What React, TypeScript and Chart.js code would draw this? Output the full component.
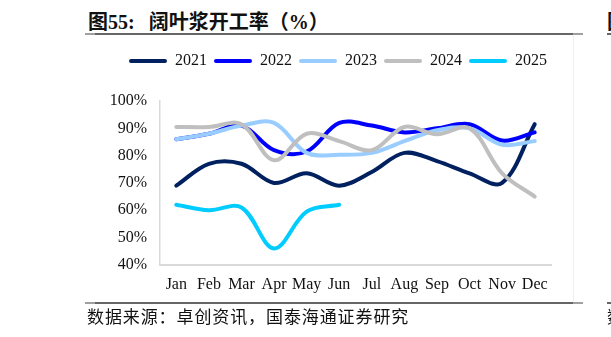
import React, { useEffect, useRef } from "react";
import { Chart, registerables } from "chart.js";

Chart.register(...registerables);

const months = ["Jan", "Feb", "Mar", "Apr", "May", "Jun", "Jul", "Aug", "Sep", "Oct", "Nov", "Dec"];
const s2021 = [69, 77, 77, 70, 73.5, 69, 74, 81, 78, 73.5, 70, 91.5];
const s2022 = [86, 88, 91, 82, 81.5, 92, 91, 88.5, 90, 91.5, 85.5, 88.5];
const s2023 = [86, 88, 91, 92, 81, 80.3, 81, 85.3, 89.3, 90, 84, 85.3];
const s2024 = [90.5, 90.5, 91.5, 78.3, 88, 85.3, 82, 90.5, 87.8, 90, 73.5, 65];
const s2025 = [62, 60, 61, 46, 59.5, 62];
const seriesNames = ["2021", "2022", "2023", "2024", "2025"];
const seriesData = [s2021, s2022, s2023, s2024, s2025];
const seriesColors = ["#002060", "#0000ff", "#99ccff", "#bfbfbf", "#00ccff"];
const yMin = 40;
const yMax = 100;
const yStep = 10;

const titleText = "阔叶浆开工率（%）";
const sourceText = "数据来源：卓创资讯，国泰海通证券研究";

const serif = "'Liberation Serif', 'Times New Roman', serif";

export default function App() {
  const ref = useRef<HTMLCanvasElement | null>(null);

  useEffect(() => {
    if (!ref.current) return;
    const defaultGen = (Chart.defaults as any).plugins.legend.labels.generateLabels;
    const chart = new Chart(ref.current, {
      type: "line",
      data: {
        labels: months,
        datasets: seriesNames.map((name, i) => ({
          label: name,
          data: seriesData[i],
          yAxisID: "y",
          borderColor: seriesColors[i],
          backgroundColor: seriesColors[i],
          borderWidth: 4,
          pointRadius: 0,
          pointHoverRadius: 0,
          tension: 0.35,
          fill: false,
          borderCapStyle: "round" as const,
          borderJoinStyle: "round" as const,
          order: seriesNames.length - i,
        })),
      },
      options: {
        responsive: false,
        animation: false,
        devicePixelRatio: 1,
        layout: { padding: { left: 0, right: 22, top: 0, bottom: 0 } },
        plugins: {
          tooltip: { enabled: false },
          legend: {
            position: "top",
            labels: {
              boxWidth: 38,
              boxHeight: 4,
              padding: 7,
              color: "#111",
              font: { family: serif, size: 16 },
              useBorderRadius: true,
              borderRadius: 2,
              sort: (a: any, b: any) => a.datasetIndex - b.datasetIndex,
              generateLabels: (c: any) =>
                defaultGen(c).map((it: any) => ({
                  ...it,
                  lineWidth: 0,
                  fillStyle: seriesColors[it.datasetIndex],
                  strokeStyle: seriesColors[it.datasetIndex],
                })),
            },
          },
        },
        scales: {
          x: {
            offset: true,
            grid: { display: false, drawTicks: false },
            border: { display: true, color: "#d9d9d9", width: 2 },
            ticks: {
              color: "#111",
              padding: 10,
              font: { family: serif, size: 16 },
              maxRotation: 0,
              autoSkip: false,
            },
          },
          y: {
            min: yMin,
            max: yMax,
            grid: { display: false, drawTicks: false },
            border: { display: true, color: "#d9d9d9", width: 1.5 },
            afterFit: (scale: any) => {
              scale.width = 100;
            },
            ticks: {
              stepSize: yStep,
              autoSkip: false,
              color: "#111",
              padding: 13,
              font: { family: serif, size: 16 },
              callback: (v: any) => v + "%",
            },
          },
        },
      },
      plugins: [
        {
          id: "legendPlacement",
          beforeInit(c: any) {
            const orig = c.legend.fit;
            c.legend.fit = function () {
              orig.call(this);
              this.height += 22;
            };
          },
          afterLayout(c: any) {
            c.legend.left = 60;
            c.legend.right = 496;
          },
        },
      ],
    });
    return () => chart.destroy();
  }, []);

  const rule = (top: number) => (
    <>
      <div style={{ position: "absolute", left: 85, top, width: 498, height: 2, background: "#666" }} />
      <div style={{ position: "absolute", left: 85, top, width: 10, height: 2, background: "#a0a0a0" }} />
      <div style={{ position: "absolute", left: 573, top, width: 10, height: 2, background: "#a0a0a0" }} />
      <div style={{ position: "absolute", left: 607, top, width: 10, height: 2, background: "#666" }} />
    </>
  );

  return (
    <div
      style={{
        position: "absolute",
        left: 0,
        top: 0,
        width: 611,
        height: 337,
        overflow: "hidden",
        background: "#fff",
        fontFamily: serif,
      }}
    >
      <div
        style={{
          position: "absolute",
          left: 88,
          top: 9,
          height: 24,
          lineHeight: "24px",
          fontSize: 20,
          fontWeight: "bold",
          whiteSpace: "nowrap",
          color: "#111",
          fontFamily: "'Liberation Serif', 'Noto Sans CJK SC', serif",
        }}
      >
        <span style={{ fontFamily: "'Noto Sans CJK SC', sans-serif" }}>图</span>
        <span>55:</span>
        <span style={{ marginLeft: 14 }}>{titleText}</span>
      </div>
      <div
        style={{
          position: "absolute",
          left: 607,
          top: 9,
          lineHeight: "24px",
          fontSize: 20,
          fontWeight: "bold",
          color: "#111",
          fontFamily: "'Noto Sans CJK SC', sans-serif",
        }}
      >
        图
      </div>
      {rule(33)}
      <div style={{ position: "absolute", left: 573, top: 35, width: 1, height: 267, background: "#f0f0f0" }} />
      <canvas
        ref={ref}
        width={513}
        height={258}
        style={{ position: "absolute", left: 60, top: 46, width: 513, height: 258 }}
      />
      {rule(302)}
      <div
        style={{
          position: "absolute",
          left: 87,
          top: 305,
          lineHeight: "21px",
          fontSize: 17,
          letterSpacing: "0.9px",
          whiteSpace: "nowrap",
          color: "#111",
          fontFamily: "'Noto Sans CJK SC', sans-serif",
        }}
      >
        {sourceText}
      </div>
      <div
        style={{
          position: "absolute",
          left: 607,
          top: 305,
          lineHeight: "21px",
          fontSize: 17,
          color: "#111",
          fontFamily: "'Noto Sans CJK SC', sans-serif",
        }}
      >
        数
      </div>
    </div>
  );
}
